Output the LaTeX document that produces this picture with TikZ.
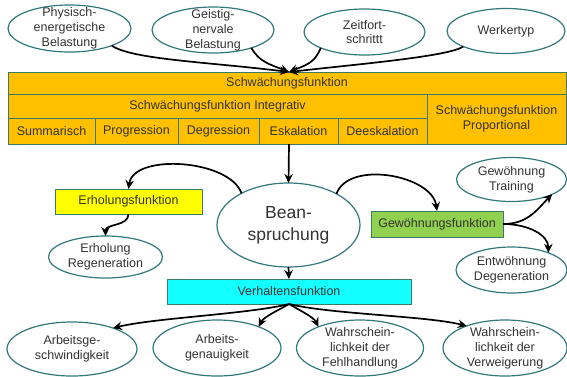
\documentclass[tikz,border=0pt]{standalone}
\usepackage{fontspec}
\setmainfont{Liberation Sans}
\usetikzlibrary{shapes.geometric,arrows.meta}
\definecolor{edgec}{HTML}{31787A}
\definecolor{boxedge}{HTML}{3B7A68}
\definecolor{txt}{HTML}{333333}
\definecolor{orangeF}{HTML}{FFC000}
\definecolor{yellowF}{HTML}{FFFF00}
\definecolor{greenF}{HTML}{92D050}
\definecolor{cyanF}{HTML}{14FFFF}
\tikzset{
  ell/.style={ellipse, draw=edgec, line width=1.2pt, fill=white, inner sep=0pt, outer sep=0pt},
  lbl/.style={align=center, text=txt, inner sep=0pt, font=\fontsize{12.5}{14.8}\selectfont},
  cell/.style={rectangle, draw=boxedge, line width=1pt, fill=orangeF, inner sep=0pt, outer sep=0pt,
    anchor=north west, text=txt, align=center, font=\fontsize{12.5}{14.8}\selectfont},
  fbox/.style={rectangle, draw=boxedge, line width=1pt, inner sep=0pt, outer sep=0pt,
    text=txt, align=center, font=\fontsize{12.5}{14.8}\selectfont},
  arr/.style={-{Stealth[length=9pt,width=8.5pt,inset=3pt]}, line width=1.7pt, black},
}
\begin{document}
\begin{tikzpicture}[x=1pt,y=1pt]
\useasboundingbox (0,0) rectangle (567,-376);

% top ellipses
\node[ell, minimum width=123pt, minimum height=47pt, label={[lbl]center:Physisch-\\energetische\\Belastung}] (e1) at (69.5,-28.5) {};
\node[ell, minimum width=122pt, minimum height=46pt, label={[lbl]center:Geistig-\\nervale\\Belastung}] (e2) at (213,-30) {};
\node[ell, minimum width=121pt, minimum height=46pt, label={[lbl]center:Zeitfort-\\schrittt}] (e3) at (364.5,-32) {};
\node[ell, minimum width=118pt, minimum height=45pt, label={[lbl]center:Werkertyp}] (e4) at (506,-31) {};

% table
\node[cell, minimum width=558pt, minimum height=22pt] (schw) at (8,-72) {Schwächungsfunktion};
\node[cell, minimum width=419pt, minimum height=24pt] (integ) at (8,-94) {Schwächungsfunktion Integrativ};
\node[cell, minimum width=139pt, minimum height=50pt] (prop) at (427,-94) {Schwächungsfunktion\\Proportional};
\node[cell, minimum width=87pt, minimum height=26pt] (summ) at (8,-118) {Summarisch};
\node[cell, minimum width=83pt, minimum height=26pt] (prog) at (95,-118) {Progression};
\node[cell, minimum width=81pt, minimum height=26pt] (degr) at (178,-118) {Degression};
\node[cell, minimum width=79pt, minimum height=26pt] (eska) at (259,-118) {Eskalation};
\node[cell, minimum width=89pt, minimum height=26pt] (deesk) at (338,-118) {Deeskalation};
\coordinate (conv) at (289,-72);
\coordinate (tbot) at (289,-144);

% middle
\node[ell, minimum width=143pt, minimum height=84pt,
  label={[lbl, font=\fontsize{17.5}{22}\selectfont]center:Bean-\\spruchung}] (bean) at (288.5,-225) {};
\node[fbox, fill=yellowF, minimum width=147pt, minimum height=25pt] (erh) at (128.5,-201.5) {Erholungsfunktion};
\node[ell, minimum width=114pt, minimum height=42pt, label={[lbl]center:Erholung\\Regeneration}] (reg) at (105.5,-257) {};
\node[fbox, fill=greenF, minimum width=132pt, minimum height=26pt] (gew) at (437,-224) {Gewöhnungsfunktion};
\node[ell, minimum width=110pt, minimum height=44pt, label={[lbl]center:Gewöhnung\\Training}] (tr) at (511.5,-179.5) {};
\node[ell, minimum width=111pt, minimum height=46pt, label={[lbl]center:Entwöhnung\\Degeneration}] (ent) at (511.5,-270) {};
\node[fbox, fill=cyanF, minimum width=244pt, minimum height=25pt] (verh) at (289,-291.5) {Verhaltensfunktion};

% bottom ellipses
\node[ell, minimum width=130pt, minimum height=54pt, label={[lbl]center:Arbeitsge-\\schwindigkeit}] (b1) at (72,-349) {};
\node[ell, minimum width=128pt, minimum height=56pt, label={[lbl]center:Arbeits-\\genauigkeit}] (b2) at (217,-348) {};
\node[ell, minimum width=127pt, minimum height=56pt, label={[lbl]center:Wahrschein-\\lichkeit der\\Fehlhandlung}] (b3) at (360,-348) {};
\node[ell, minimum width=124pt, minimum height=56pt, label={[lbl]center:Wahrschein-\\lichkeit der\\Verweigerung}] (b4) at (505,-348) {};

% connectors top
\draw[arr] (e1.-22) .. controls +(20,-14) and +(-80,10) .. (conv);
\draw[arr] (e2.-25) .. controls +(8,-14) and +(-20,8) .. (conv);
\draw[arr] (e3.200) .. controls +(-6,-14) and +(20,8) .. (conv);
\draw[arr] (e4.200) .. controls +(-15,-10) and +(70,8) .. (conv);

\draw[arr] (tbot) -- (bean.north);
\draw[arr] (bean.146) .. controls +(-12,34) and +(5,36) .. (erh.north);
\draw[arr] (erh.south) to[out=-90,in=90] (reg.north);
\draw[arr] (bean.33) .. controls +(12,34) and +(-5,36) .. (gew.north);
\draw[arr] (gew.east) .. controls +(25,0) and +(-15,-15) .. (tr.-20);
\draw[arr] (gew.east) .. controls +(25,0) and +(0,18) .. (ent.25);
\draw[arr] (bean.south) -- (verh.north);

% connectors bottom
\draw[arr] (verh.south) .. controls +(-40,-10) and +(40,10) .. (b1.27);
\draw[arr] (verh.south) .. controls +(-10,-6) and +(5,10) .. (b2.27);
\draw[arr] (verh.south) .. controls +(10,-6) and +(-5,10) .. (b3.153);
\draw[arr] (verh.south) .. controls +(40,-10) and +(-40,10) .. (b4.150);
\end{tikzpicture}
\end{document}
